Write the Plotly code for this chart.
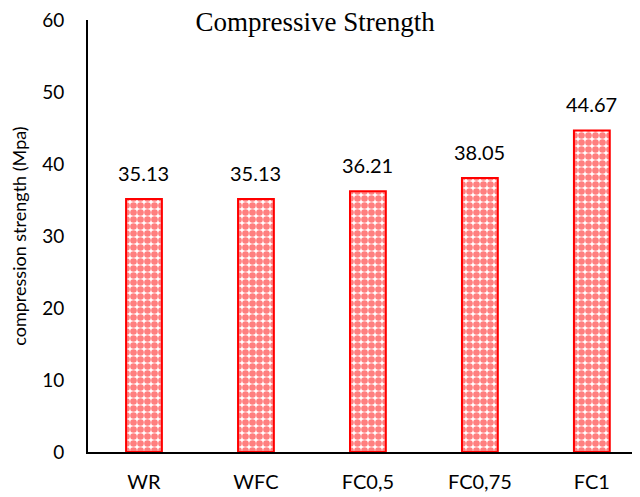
import plotly.graph_objects as go

categories = ["WR", "WFC", "FC0,5", "FC0,75", "FC1"]
values = [35.13, 35.13, 36.21, 38.05, 44.67]
value_labels = ["35.13", "35.13", "36.21", "38.05", "44.67"]
y_ticks = [0, 10, 20, 30, 40, 50, 60]

fig = go.Figure()
fig.add_trace(go.Bar(
    x=categories,
    y=values,
    width=0.32,
    marker=dict(
        color="white",
        line=dict(color="#ff0000", width=2),
        pattern=dict(shape=".", fgcolor="#ff0000", bgcolor="white",
                     size=7, solidity=0.7, fillmode="overlay"),
    ),
    cliponaxis=False,
))

for c, v, t in zip(categories, values, value_labels):
    fig.add_annotation(x=c, y=v, text=t, showarrow=False,
                       xanchor="center", yanchor="bottom", yshift=12,
                       font=dict(family="Lato", size=20, color="#000000"))

fig.update_layout(
    width=640, height=497,
    margin=dict(l=80, r=8, t=12, b=53, autoexpand=False),
    paper_bgcolor="white", plot_bgcolor="white",
    showlegend=False,
    title=dict(text="Compressive Strength", x=0.48, xanchor="center",
               y=0.972, yanchor="middle",
               font=dict(family="Liberation Serif", size=27, color="#000000")),
    font=dict(family="Lato", color="#000000"),
)
fig.update_xaxes(
    type="category",
    range=[-0.5, 4.43],
    automargin=False,
    showline=True, linecolor="#000000", linewidth=2,
    showgrid=False, zeroline=False,
    ticks="outside", ticklen=11, tickcolor="rgba(0,0,0,0)",
    tickfont=dict(family="Lato", size=20, color="#000000"),
)
fig.update_yaxes(
    range=[0, 60],
    tickvals=y_ticks,
    automargin=False,
    showline=True, linecolor="#000000", linewidth=2,
    showgrid=False, zeroline=False,
    ticks="outside", ticklen=18, tickcolor="rgba(0,0,0,0)",
    ticklabeloverflow="allow",
    tickfont=dict(family="Lato", size=19, color="#000000"),
    title=dict(text="compression strength (Mpa)", standoff=25,
               font=dict(family="Lato", size=18, color="#000000")),
)

fig.write_html("out.html")
